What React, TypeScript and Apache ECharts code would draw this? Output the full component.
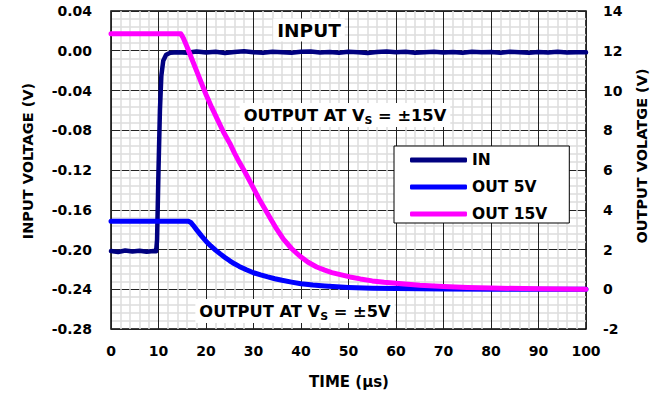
import React, { useEffect, useRef } from "react";
import * as echarts from "echarts";

const FONT = "'DejaVu Sans', 'Liberation Sans', Arial, sans-serif";

const xTicks = { min: 0, max: 100, interval: 10 };
const leftTicks = { min: -0.28, max: 0.04, interval: 0.04 };
const rightTicks = { min: -2, max: 14, interval: 2 };

const seriesNames = ["IN", "OUT 5V", "OUT 15V"];
const seriesColors = ["#000080", "#0000FF", "#FF00FF"];

const timeIn = [0, 1.5, 3, 4.5, 6, 7.5, 9, 9.5, 9.7, 10.0, 10.3, 10.6, 11.0, 11.6, 12.5, 14,
  16, 18, 20, 22, 24, 26, 28, 30, 32, 34, 36, 38, 40, 42, 44, 46, 48, 50, 52, 54, 56, 58, 60,
  62, 64, 66, 68, 70, 72, 74, 76, 78, 80, 82, 84, 86, 88, 90, 92, 94, 96, 98, 100];
const inputV = [-0.2015, -0.2025, -0.2010, -0.2020, -0.2012, -0.2022, -0.2015, -0.2018,
  -0.19, -0.12, -0.06, -0.025, -0.010, -0.004, -0.002, -0.0015,
  -0.0020, -0.0008, -0.0018, -0.0010, -0.0022, -0.0012, -0.0006, -0.0016, -0.0020, -0.0009,
  -0.0014, -0.0021, -0.0011, -0.0007, -0.0017, -0.0013, -0.0019, -0.0010, -0.0015, -0.0022,
  -0.0012, -0.0008, -0.0016, -0.0011, -0.0019, -0.0014, -0.0009, -0.0018, -0.0013, -0.0020,
  -0.0011, -0.0016, -0.0012, -0.0019, -0.0010, -0.0015, -0.0021, -0.0013, -0.0017, -0.0011,
  -0.0018, -0.0014, -0.0016];

const time5 = [0, 16.3, 16.8, 17.3, 18, 19, 20, 21, 22, 23, 24, 25, 26, 27, 28.5, 30, 31.5, 33,
  34.5, 36, 38, 40, 42.5, 45, 47.5, 50, 55, 60, 70, 80, 90, 100];
const out5 = [3.42, 3.42, 3.36, 3.22, 3.0, 2.7, 2.42, 2.18, 1.97, 1.78, 1.6, 1.43, 1.28, 1.15,
  0.98, 0.83, 0.72, 0.62, 0.53, 0.45, 0.36, 0.28, 0.21, 0.16, 0.12, 0.09, 0.055, 0.035, 0.015,
  0.005, 0.0, 0.0];

const time15 = [0, 14.7, 15.2, 16, 17, 18.5, 20, 21.2, 22.5, 23.7, 25, 26, 27, 28.2, 29.3, 30.4,
  31.4, 32.5, 33.5, 34.9, 36.3, 38, 39.8, 41.5, 43.3, 45, 46.5, 48.5, 50.3, 52.5, 55, 57.5, 60,
  62.5, 65, 70, 75, 80, 90, 100];
const out15 = [12.85, 12.85, 12.65, 12.2, 11.6, 10.7, 9.8, 9.15, 8.5, 7.9, 7.35, 6.85, 6.4, 5.9,
  5.4, 4.9, 4.45, 4.0, 3.58, 3.02, 2.52, 2.05, 1.66, 1.36, 1.12, 0.96, 0.84, 0.72, 0.62, 0.52,
  0.42, 0.35, 0.30, 0.25, 0.20, 0.14, 0.09, 0.06, 0.02, 0.0];

const pairs = (xs: number[], ys: number[]) =>
  xs.slice(0, Math.min(xs.length, ys.length)).map((x, i) => [x, ys[i]]);

const labelStyle = {
  fontFamily: FONT,
  fontWeight: "bold" as const,
  fontSize: 14,
  color: "#000",
};

export default function App() {
  const ref = useRef<HTMLDivElement>(null);

  useEffect(() => {
    if (!ref.current) return;
    const chart = echarts.init(ref.current, undefined, { renderer: "svg" });

    const annoRich = {
      a: { fontFamily: FONT, fontWeight: "bold", fontSize: 16.3, color: "#000", lineHeight: 22, verticalAlign: "middle" },
      s: { fontFamily: FONT, fontWeight: "bold", fontSize: 11, color: "#000", lineHeight: 14, verticalAlign: "bottom" },
    };

    chart.setOption({
      animation: false,
      backgroundColor: "#fff",
      grid: {
        left: 111,
        right: 82,
        top: 11,
        bottom: 66,
        show: true,
        borderColor: "#000",
        borderWidth: 1.5,
        backgroundColor: "transparent",
      },
      legend: {
        orient: "vertical",
        left: 394,
        top: 146,
        padding: [6, 22, 1, 16],
        itemWidth: 57,
        itemHeight: 5,
        itemGap: 11,
        icon: "roundRect",
        backgroundColor: "#fff",
        borderColor: "#000",
        borderWidth: 1,
        borderRadius: 0,
        data: seriesNames,
        textStyle: { fontFamily: FONT, fontWeight: "bold", fontSize: 15.5, color: "#000" },
      },
      xAxis: {
        type: "value",
        min: xTicks.min,
        max: xTicks.max,
        interval: xTicks.interval,
        axisLine: { show: false },
        axisTick: { show: false },
        axisLabel: { ...labelStyle, margin: 15 },
        splitLine: { show: true, lineStyle: { color: "#222", width: 1 } },
        minorTick: { show: false, splitNumber: 5 },
        minorSplitLine: { show: true, lineStyle: { color: "#dcdcdc", width: 1.5 } },
      },
      yAxis: [
        {
          type: "value",
          min: leftTicks.min,
          max: leftTicks.max,
          interval: leftTicks.interval,
          axisLine: { show: false },
          axisTick: { show: false },
          axisLabel: {
            ...labelStyle,
            margin: 19,
            formatter: (v: number) => (Math.abs(v) < 1e-9 ? "0.00" : v.toFixed(2)),
          },
          splitLine: { show: true, lineStyle: { color: "#222", width: 1 } },
          minorTick: { show: false, splitNumber: 5 },
          minorSplitLine: { show: true, lineStyle: { color: "#dcdcdc", width: 1.5 } },
        },
        {
          type: "value",
          position: "right",
          min: rightTicks.min,
          max: rightTicks.max,
          interval: rightTicks.interval,
          axisLine: { show: false },
          axisTick: { show: false },
          axisLabel: { ...labelStyle, margin: 17 },
          splitLine: { show: false },
        },
      ],
      series: [
        {
          name: seriesNames[0],
          type: "line",
          yAxisIndex: 0,
          data: pairs(timeIn, inputV),
          showSymbol: false,
          color: seriesColors[0],
          lineStyle: { color: seriesColors[0], width: 4.5, cap: "round", join: "round" },
          z: 3,
        },
        {
          name: seriesNames[1],
          type: "line",
          yAxisIndex: 1,
          data: pairs(time5, out5),
          showSymbol: false,
          color: seriesColors[1],
          lineStyle: { color: seriesColors[1], width: 5, cap: "round", join: "round" },
          z: 4,
        },
        {
          name: seriesNames[2],
          type: "line",
          yAxisIndex: 1,
          data: pairs(time15, out15),
          showSymbol: false,
          color: seriesColors[2],
          lineStyle: { color: seriesColors[2], width: 5, cap: "round", join: "round" },
          z: 5,
        },
      ],
      graphic: [
        {
          type: "text",
          x: 27.5,
          y: 161,
          rotation: Math.PI / 2,
          style: {
            text: "INPUT VOLTAGE (V)",
            font: `bold 14.5px ${FONT}`,
            fill: "#000",
            align: "center",
            verticalAlign: "middle",
          },
        },
        {
          type: "text",
          x: 642,
          y: 156,
          rotation: Math.PI / 2,
          style: {
            text: "OUTPUT VOLATGE (V)",
            font: `bold 14.5px ${FONT}`,
            fill: "#000",
            align: "center",
            verticalAlign: "middle",
          },
        },
        {
          type: "text",
          x: 349,
          y: 382,
          style: {
            text: "TIME (µs)",
            font: `bold 15px ${FONT}`,
            fill: "#000",
            align: "center",
            verticalAlign: "middle",
          },
        },
        {
          type: "text",
          x: 309,
          y: 30,
          z: 20,
          style: {
            text: "INPUT",
            font: `bold 18.5px ${FONT}`,
            fill: "#000",
            align: "center",
            verticalAlign: "middle",
            backgroundColor: "#fff",
            padding: [2, 4, 2, 4],
          },
        },
        {
          type: "text",
          x: 345,
          y: 115,
          z: 20,
          style: {
            text: "{a|OUTPUT AT V}{s|S}{a| = ±15V}",
            rich: annoRich,
            align: "center",
            verticalAlign: "middle",
            backgroundColor: "#fff",
            padding: [1, 4, 1, 4],
          },
        },
        {
          type: "text",
          x: 295,
          y: 311,
          z: 20,
          style: {
            text: "{a|OUTPUT AT V}{s|S}{a| = ±5V}",
            rich: annoRich,
            align: "center",
            verticalAlign: "middle",
            backgroundColor: "#fff",
            padding: [1, 4, 1, 4],
          },
        },
      ],
    });

    return () => chart.dispose();
  }, []);

  return (
    <div
      ref={ref}
      style={{ position: "fixed", left: 0, top: 0, width: 668, height: 395, background: "#fff" }}
    />
  );
}
